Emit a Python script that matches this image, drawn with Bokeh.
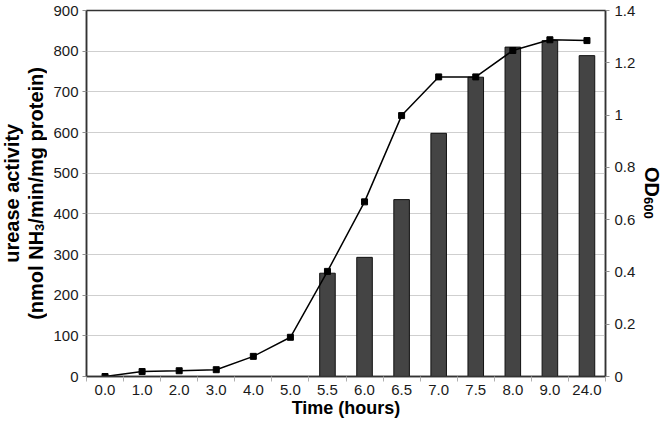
from bokeh.plotting import figure
from bokeh.models import Range1d, LinearAxis, FixedTicker, ColumnDataSource, Div
from bokeh.layouts import row
from bokeh.embed import file_html
from bokeh.resources import INLINE

times = ["0.0", "1.0", "2.0", "3.0", "4.0", "5.0", "5.5", "6.0", "6.5", "7.0", "7.5", "8.0", "9.0", "24.0"]
urease = [0, 0, 0, 0, 0, 0, 254, 293, 435, 598, 736, 810, 826, 789]
od600 = [0.0, 0.019, 0.022, 0.026, 0.077, 0.150, 0.402, 0.668, 0.998, 1.146, 1.146, 1.247, 1.288, 1.285]
left_ticks = [0, 100, 200, 300, 400, 500, 600, 700, 800, 900]
right_ticks = [0, 0.2, 0.4, 0.6, 0.8, 1.0, 1.2, 1.4]
right_labels = ["0", "0.2", "0.4", "0.6", "0.8", "1", "1.2", "1.4"]

pos = list(range(len(times)))
bounds = [i - 0.5 for i in range(len(times) + 1)]
src = ColumnDataSource(dict(x=pos, u=urease, od=od600))

FONT = "Liberation Sans"
AX = "#333333"
TXT = "#1a1a1a"

p = figure(width=590, height=424, output_backend="svg", toolbar_location=None,
           x_range=Range1d(-0.5, len(times) - 0.5), y_range=Range1d(0, 900),
           min_border_left=38, min_border_right=30, min_border_top=10, min_border_bottom=48,
           margin=(0, 0, 0, 0))
p.outline_line_color = AX
p.outline_line_width = 1.5
p.background_fill_color = "white"
p.border_fill_color = "white"

p.extra_y_ranges = {"od": Range1d(0, 1.4)}

p.xgrid.grid_line_color = None
p.ygrid.grid_line_color = "#cfcfcf"
p.ygrid.grid_line_width = 1

# x axis
xa = p.xaxis[0]
xa.ticker = FixedTicker(ticks=pos, minor_ticks=bounds)
xa.major_label_overrides = {i: t for i, t in zip(pos, times)}
xa.major_tick_line_color = None
xa.minor_tick_line_color = "#b0b0b0"
xa.minor_tick_in = 0
xa.minor_tick_out = 5
xa.axis_line_color = AX
xa.axis_line_width = 1.5
xa.major_label_text_font = FONT
xa.major_label_text_font_size = "15px"
xa.major_label_text_color = TXT
xa.major_label_standoff = 2
xa.axis_label = "Time (hours)"
xa.axis_label_text_font = FONT
xa.axis_label_text_font_style = "bold"
xa.axis_label_text_font_size = "18px"
xa.axis_label_text_color = "black"
xa.axis_label_standoff = 0

# left axis
ya = p.yaxis[0]
ya.ticker = FixedTicker(ticks=left_ticks)
ya.minor_tick_line_color = None
ya.major_tick_in = 0
ya.major_tick_out = 4
ya.major_tick_line_color = "#909090"
ya.axis_line_color = AX
ya.axis_line_width = 1.5
ya.major_label_text_font = FONT
ya.major_label_text_font_size = "15px"
ya.major_label_text_color = TXT
ya.major_label_standoff = 4

# right axis
ra = LinearAxis(y_range_name="od", ticker=FixedTicker(ticks=right_ticks))
ra.major_label_overrides = {t: l for t, l in zip(right_ticks, right_labels)}
ra.minor_tick_line_color = None
ra.major_tick_in = 0
ra.major_tick_out = 4
ra.major_tick_line_color = "#909090"
ra.axis_line_color = AX
ra.axis_line_width = 1.5
ra.major_label_text_font = FONT
ra.major_label_text_font_size = "15px"
ra.major_label_text_color = TXT
ra.major_label_standoff = 5
p.add_layout(ra, "right")

p.vbar(x="x", top="u", width=0.42, bottom=0, source=src,
       fill_color="#444444", line_color="#111111", line_width=1)
p.line(x="x", y="od", source=src, y_range_name="od", line_color="black", line_width=1.5)
p.scatter(x="x", y="od", source=src, y_range_name="od", marker="square", size=6,
          fill_color="black", line_color="black")

TXT_STYLE = ("font-family:'Liberation Sans',Arial,sans-serif;font-weight:bold;"
             "font-size:20px;color:#000;white-space:nowrap;")
SUB_STYLE = "font-size:13px;line-height:0;vertical-align:-4px;"

left_html = (
    '<div style="height:386px;width:48px;display:flex;align-items:center;justify-content:center;">'
    '<div style="writing-mode:vertical-rl;transform:rotate(180deg);line-height:24px;text-align:center;'
    + TXT_STYLE + '">urease activity<br>(nmol NH<span style="' + SUB_STYLE + '">3</span>'
    '/min/mg protein)</div></div>'
)
right_html = (
    '<div style="height:386px;width:28px;display:flex;align-items:center;justify-content:center;">'
    '<div style="writing-mode:vertical-rl;line-height:22px;' + TXT_STYLE + '">OD'
    '<span style="' + SUB_STYLE + '">600</span></div></div>'
)
left_div = Div(text=left_html, width=48, height=424, margin=(0, 0, 0, 0))
right_div = Div(text=right_html, width=28, height=424, margin=(0, 0, 0, 0))

layout = row(left_div, p, right_div, spacing=0)

open("out.html", "w").write(file_html(layout, INLINE))
